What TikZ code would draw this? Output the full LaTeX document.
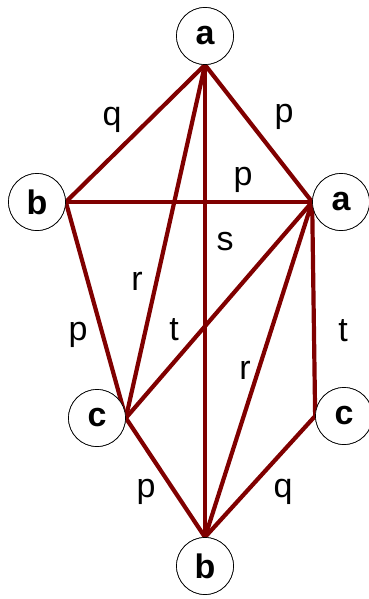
\documentclass[tikz,border=0pt]{standalone}
\usepackage{fontspec}
\setmainfont{Liberation Sans}
\usetikzlibrary{arrows.meta}

\definecolor{edgered}{RGB}{128,0,0}

\begin{document}
\begin{tikzpicture}[x=1pt, y=-1pt,
	every node/.style={font=\fontsize{34}{38}\selectfont},
	vert/.style={circle, draw=black, line width=0.7pt, fill=white, minimum size=57pt, inner sep=0pt, font=\fontsize{34}{38}\selectfont\bfseries},
	lbl/.style={anchor=base, inner sep=0pt},
	edge/.style={draw=edgered, line width=4.2pt, line cap=round, line join=round}]
	\useasboundingbox (0,0) rectangle (369,599);
	% vertices
	\node[vert] (A1) at (205,36) {a};
	\node[vert] (B1) at (37,202) {b};
	\node[vert] (A2) at (341,202) {a};
	\node[vert] (C1) at (97,418) {c};
	\node[vert] (C2) at (344,416) {c};
	\node[vert] (B2) at (205,566) {b};
	% edges
	\draw[edge] (A1.south) -- (B1.east);
	\draw[edge] (A1.south) -- (A2.west);
	\draw[edge] (A1.south) -- (C1.east);
	\draw[edge] (A1.south) -- (B2.north);
	\draw[edge] (B1.east) -- (A2.west);
	\draw[edge] (B1.east) -- (C1.east);
	\draw[edge] (A2.west) -- (C1.east);
	\draw[edge] (A2.west) -- (B2.north);
	\draw[edge] (A2.west) -- (C2.west);
	\draw[edge] (C1.east) -- (B2.north);
	\draw[edge] (C2.west) -- (B2.north);
	% redraw circles on top
	\foreach \v/\t in {A1/a, B1/b, A2/a, C1/c, C2/c, B2/b}
		\node[vert] at (\v) {\t};
	% labels
	\node[lbl] (q1) at (112,125) {q};
	\node[lbl] (p1) at (284,123) {p};
	\node[lbl] (p2) at (243,185) {p};
	\node[lbl] (s1) at (225,250) {s};
	\node[lbl] (r1) at (137,290) {r};
	\node[lbl] (p3) at (78,340) {p};
	\node[lbl] (t1) at (174,340) {t};
	\node[lbl] (r2) at (245,379) {r};
	\node[lbl] (t2) at (343,341) {t};
	\node[lbl] (p4) at (146,497) {p};
	\node[lbl] (q2) at (283,497) {q};
\end{tikzpicture}
\end{document}
